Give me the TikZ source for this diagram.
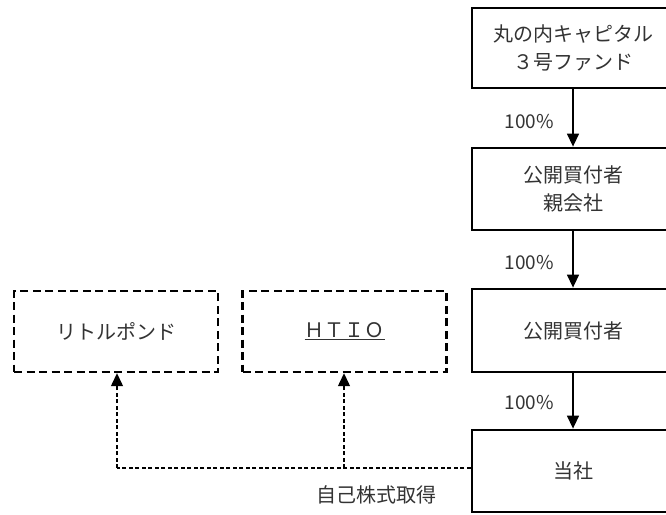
\documentclass[tikz,border=0pt]{standalone}
\usepackage{fontspec}
\setmainfont{Noto Sans CJK JP}
\usetikzlibrary{arrows.meta,positioning}
\tikzset{
  solidbox/.style={draw=black,line width=2.8pt,minimum width=202pt,inner sep=0pt,align=center,font=\fontsize{20}{28}\selectfont,text=black!80},
  dashbox/.style={draw=black,line width=2.4pt,dash pattern=on 8pt off 4.5pt,minimum width=204pt,minimum height=81pt,inner sep=0pt,align=center,font=\fontsize{20}{28}\selectfont,text=black!80},
  ownarrow/.style={line width=1.4pt,-{Triangle[width=12pt,length=13pt]}},
  dasharrow/.style={line width=1.3pt,dash pattern=on 4pt off 2.5pt,-{Triangle[width=12pt,length=13pt]}},
  dashline/.style={line width=1.3pt,dash pattern=on 4pt off 2.5pt},
  pct/.style={font=\fontsize{19}{22}\selectfont,text=black!80,anchor=east,inner sep=0pt},
  lbl/.style={font=\fontsize{20}{24}\selectfont,text=black!80,inner sep=0pt}
}
\begin{document}
\begin{tikzpicture}[x=1pt,y=-1pt]
\useasboundingbox (0,0) rectangle (666,514);
\node[solidbox,minimum height=80pt] (fund) at (573,48) {丸の内キャピタル\\３号ファンド};
\node[solidbox,minimum height=82pt] (parent) at (573,189) {公開買付者\\親会社};
\node[solidbox,minimum height=83pt] (buyer) at (573,330.5) {公開買付者};
\node[solidbox,minimum height=82pt] (company) at (573,471) {当社};
\node[dashbox] (little) at (116,331.5) {リトルポンド};
\node[dashbox] (htio) at (344.5,331.5) {\underline{ＨＴＩＯ}};
\draw[ownarrow] (fund.south) -- (parent.north);
\draw[ownarrow] (parent.south) -- (buyer.north);
\draw[ownarrow] (buyer.south) -- (company.north);
\node[pct] (p1) at (554,122) {100\%};
\node[pct] (p2) at (554,263) {100\%};
\node[pct] (p3) at (554,403) {100\%};
\coordinate (j1) at (117,468);
\coordinate (j2) at (344,468);
\draw[dashline] (company.west |- 0,468) -- (j1);
\draw[dasharrow] (j1) -- (little.south -| j1);
\draw[dasharrow] (j2) -- (htio.south -| j2);
\node[lbl] (acq) at (376,495) {自己株式取得};
\end{tikzpicture}
\end{document}
